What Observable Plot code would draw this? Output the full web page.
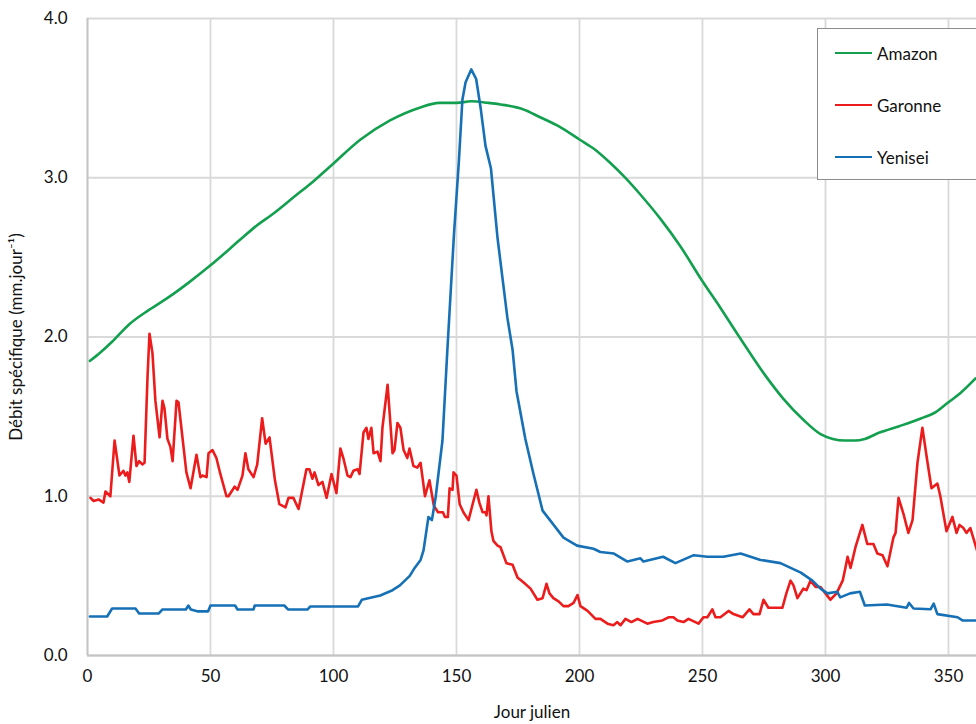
<!DOCTYPE html>
<html>
<head>
<meta charset="utf-8">
<script src="https://cdn.jsdelivr.net/npm/d3@7"></script>
<script src="https://cdn.jsdelivr.net/npm/@observablehq/plot@0.6"></script>
<style>
  html, body { margin: 0; padding: 0; background: #fff; overflow: hidden; }
  #wrap { position: relative; width: 976px; height: 724px; overflow: hidden; font-family: Lato, "Open Sans", sans-serif; }
  #legend { position: absolute; left: 817px; top: 28px; width: 165px; height: 152px; border: 1.5px solid #8c8c8c; background: #fff; box-sizing: border-box; }
  .item { position: absolute; left: 17px; height: 20px; display: flex; align-items: center; font-size: 17px; color: #111; }
  .sw { width: 37px; height: 2.5px; margin-right: 5px; }
</style>
</head>
<body>
<div id="wrap"><div id="chart"></div><div id="legend"></div></div>
<script>
// ---- data ----
const seriesNames = ["Amazon", "Garonne", "Yenisei"];
const seriesColors = ["#12a04f", "#ec1c1c", "#1670b6"];

const amazonDay = [1,5,10,17,25,33,41,50,62,68,76,84,92,100,111,123,135,143,150,156,163,168,177,184,192,200,206,212,218,225,233,241,250,257,265,275,283,291,298,303,308,312,316,322,330,339,345,350,355,361];
const amazonQ   = [1.85,1.90,1.97,2.08,2.17,2.25,2.34,2.45,2.61,2.69,2.78,2.88,2.98,3.09,3.24,3.36,3.44,3.47,3.47,3.48,3.47,3.46,3.43,3.38,3.32,3.24,3.18,3.10,3.01,2.89,2.74,2.57,2.35,2.19,2.00,1.77,1.61,1.48,1.39,1.36,1.35,1.35,1.36,1.40,1.44,1.49,1.53,1.59,1.65,1.74];

const yeniseiDay = [1,8,10,19.5,21,29,30.5,40,41,42,45,49,50,60,61,67.5,68,80,81.5,89.5,90.6,110,111.5,119,124,127,131,133,135.4,136.6,138.6,140,141.5,144.3,146.3,149,151,152.4,153.7,156,158,159.8,161.8,164,166.7,168.7,170.7,172.8,174.4,178,181.3,185,188,193.5,199,205.7,208.5,214,219.5,224.8,226,234,239,246.5,252,258.5,265.5,273.6,281.7,290,294.7,298,300.8,304.8,306,310,314,316,325,333,334,335.8,342.7,344,345.5,353.7,355.7,362];
const yeniseiQ   = [0.245,0.245,0.295,0.295,0.264,0.264,0.289,0.289,0.314,0.289,0.277,0.277,0.314,0.314,0.289,0.289,0.314,0.314,0.289,0.289,0.308,0.308,0.35,0.377,0.41,0.44,0.50,0.55,0.60,0.66,0.87,0.85,0.99,1.35,1.92,2.65,3.11,3.49,3.60,3.68,3.62,3.44,3.20,3.06,2.62,2.37,2.12,1.92,1.66,1.36,1.14,0.91,0.85,0.74,0.69,0.67,0.65,0.64,0.59,0.61,0.59,0.62,0.58,0.63,0.62,0.62,0.64,0.60,0.58,0.52,0.47,0.42,0.39,0.40,0.365,0.39,0.40,0.314,0.32,0.30,0.33,0.295,0.29,0.326,0.26,0.24,0.22,0.22];

const garonneDay = [1.2,2.5,4.5,6.5,7.3,9.3,11,13,14.6,15.4,16.2,17,18.7,19.9,21,22.3,23.2,24.4,25.2,26.4,27.6,29.3,30.5,31.3,32.5,33.7,34.6,36.2,37,38.6,40.2,41.9,44.3,45.9,46.7,48.4,49.2,50.8,52.4,54,56.5,57.3,59.8,61,63,64.2,65.4,67.5,69,71,72.4,74,76.2,78,80.5,81.7,83.7,85.8,89,90.2,91.4,92.3,93.9,95.5,97.2,99.2,101.2,102.8,104,105.7,106.9,108.1,109.8,110.6,112.2,113.4,114.2,115.4,116.3,117.9,119.1,119.9,122,124,124.8,126,127.2,128.5,130,130.9,132.5,134.1,135.4,137.2,139,140.8,142.5,144.5,145.3,146.5,147.2,148.4,148.8,150,151.3,152.8,154.9,156.9,158.1,159.3,160.6,161.8,162.2,163,164.2,165,166.7,167.9,170.3,172.8,174.8,177.2,180.1,182.9,185,186.6,187.8,189.4,191.5,193.5,195.5,197.6,199.2,200.4,203.3,206.5,208.5,211.4,213.8,215.4,216.7,218.7,221.1,223.6,227.6,230,233.7,236.2,238.2,239.8,242.3,244.3,248.4,250.4,252,254,255.3,257.3,260.6,262.6,266.3,269.1,270.7,273.2,274.8,276.8,280.5,282.5,284.1,285.8,287,288.6,291,292.3,293.9,296,298,300,302,304.5,307,308.1,309,310.2,312.2,315,317,319.5,321.1,323.2,325.2,327.6,328.5,329.7,331.7,333.7,335.4,337.4,339.4,341.5,343.1,345.5,346.7,349.2,351.6,353.3,354.5,356.1,357.3,358.9,362];
const garonneQ   = [0.99,0.97,0.98,0.96,1.03,1.00,1.35,1.13,1.16,1.13,1.15,1.09,1.38,1.19,1.22,1.20,1.21,1.75,2.02,1.90,1.60,1.37,1.60,1.55,1.36,1.31,1.22,1.60,1.59,1.37,1.15,1.05,1.26,1.12,1.13,1.12,1.27,1.29,1.24,1.14,1.00,1.00,1.06,1.04,1.13,1.27,1.17,1.12,1.20,1.49,1.33,1.37,1.10,0.95,0.93,0.99,0.99,0.92,1.17,1.17,1.11,1.15,1.07,1.09,0.99,1.14,1.02,1.30,1.24,1.13,1.12,1.16,1.17,1.14,1.40,1.43,1.36,1.43,1.27,1.28,1.22,1.43,1.70,1.27,1.29,1.46,1.43,1.29,1.24,1.30,1.19,1.18,1.21,1.00,1.10,0.94,0.90,0.90,0.87,0.87,1.05,1.04,1.15,1.13,0.95,0.90,0.85,0.97,1.04,0.96,0.90,0.90,0.88,1.00,0.78,0.72,0.69,0.68,0.58,0.57,0.49,0.46,0.42,0.35,0.36,0.45,0.39,0.36,0.34,0.31,0.31,0.33,0.38,0.31,0.28,0.23,0.23,0.20,0.19,0.21,0.19,0.23,0.21,0.23,0.20,0.21,0.22,0.24,0.24,0.22,0.21,0.23,0.20,0.24,0.24,0.29,0.24,0.24,0.28,0.26,0.24,0.29,0.26,0.26,0.35,0.30,0.30,0.30,0.39,0.47,0.44,0.36,0.42,0.41,0.47,0.43,0.43,0.39,0.35,0.39,0.47,0.55,0.62,0.55,0.68,0.82,0.70,0.70,0.64,0.63,0.56,0.74,0.77,0.99,0.89,0.77,0.85,1.21,1.43,1.21,1.05,1.08,1.00,0.78,0.87,0.77,0.82,0.80,0.77,0.80,0.64];

const xTicks = [0, 50, 100, 150, 200, 250, 300, 350];
const yTicks = [0, 1, 2, 3, 4];

// ---- build tables ----
const toRows = (name, days, vals) => days.map((d, i) => ({river: name, day: d, q: vals[i]}));
const amazonRows = toRows("Amazon", amazonDay, amazonQ);
const garonneRows = toRows("Garonne", garonneDay, garonneQ);
const yeniseiRows = toRows("Yenisei", yeniseiDay, yeniseiQ);

const chart = Plot.plot({
  width: 976,
  height: 724,
  marginLeft: 87,
  marginRight: 0,
  marginTop: 18,
  marginBottom: 69,
  style: {fontFamily: "Lato, 'Open Sans', sans-serif", fontSize: "17px", color: "#111", background: "#fff", overflow: "visible"},
  x: {domain: [0, 361.4], ticks: xTicks, tickSize: 0, tickPadding: 14, label: "Jour julien", labelAnchor: "center", labelArrow: "none", labelOffset: 62},
  y: {domain: [0, 4], ticks: yTicks, tickFormat: d3.format(".1f"), tickSize: 0, tickPadding: 20, label: "Débit spécifique (mm.jour⁻¹)", labelAnchor: "center", labelArrow: "none", labelOffset: 78},
  color: {domain: seriesNames, range: seriesColors},
  marks: [
    Plot.gridX(xTicks, {stroke: "#d9d9d9", strokeOpacity: 1, strokeWidth: 1.8}),
    Plot.gridY(yTicks, {stroke: "#d9d9d9", strokeOpacity: 1, strokeWidth: 1.8}),
    Plot.ruleX([0], {stroke: "#c4c4c4", strokeWidth: 1.8}),
    Plot.ruleY([0], {stroke: "#c4c4c4", strokeWidth: 1.8}),
    Plot.line(amazonRows, {x: "day", y: "q", stroke: "river", strokeWidth: 2.6, curve: "monotone-x"}),
    Plot.line(garonneRows, {x: "day", y: "q", stroke: "river", strokeWidth: 2.6, strokeLinejoin: "round"}),
    Plot.line(yeniseiRows, {x: "day", y: "q", stroke: "river", strokeWidth: 2.6, strokeLinejoin: "round"})
  ]
});
document.getElementById("chart").appendChild(chart);

// ---- legend ----
const legend = document.getElementById("legend");
seriesNames.forEach((n, i) => {
  const it = document.createElement("div");
  it.className = "item";
  it.style.top = (14 + i * 52) + "px";
  const sw = document.createElement("span");
  sw.className = "sw";
  sw.style.background = seriesColors[i];
  const t = document.createElement("span");
  t.textContent = n;
  it.appendChild(sw); it.appendChild(t);
  legend.appendChild(it);
});
</script>
</body>
</html>
